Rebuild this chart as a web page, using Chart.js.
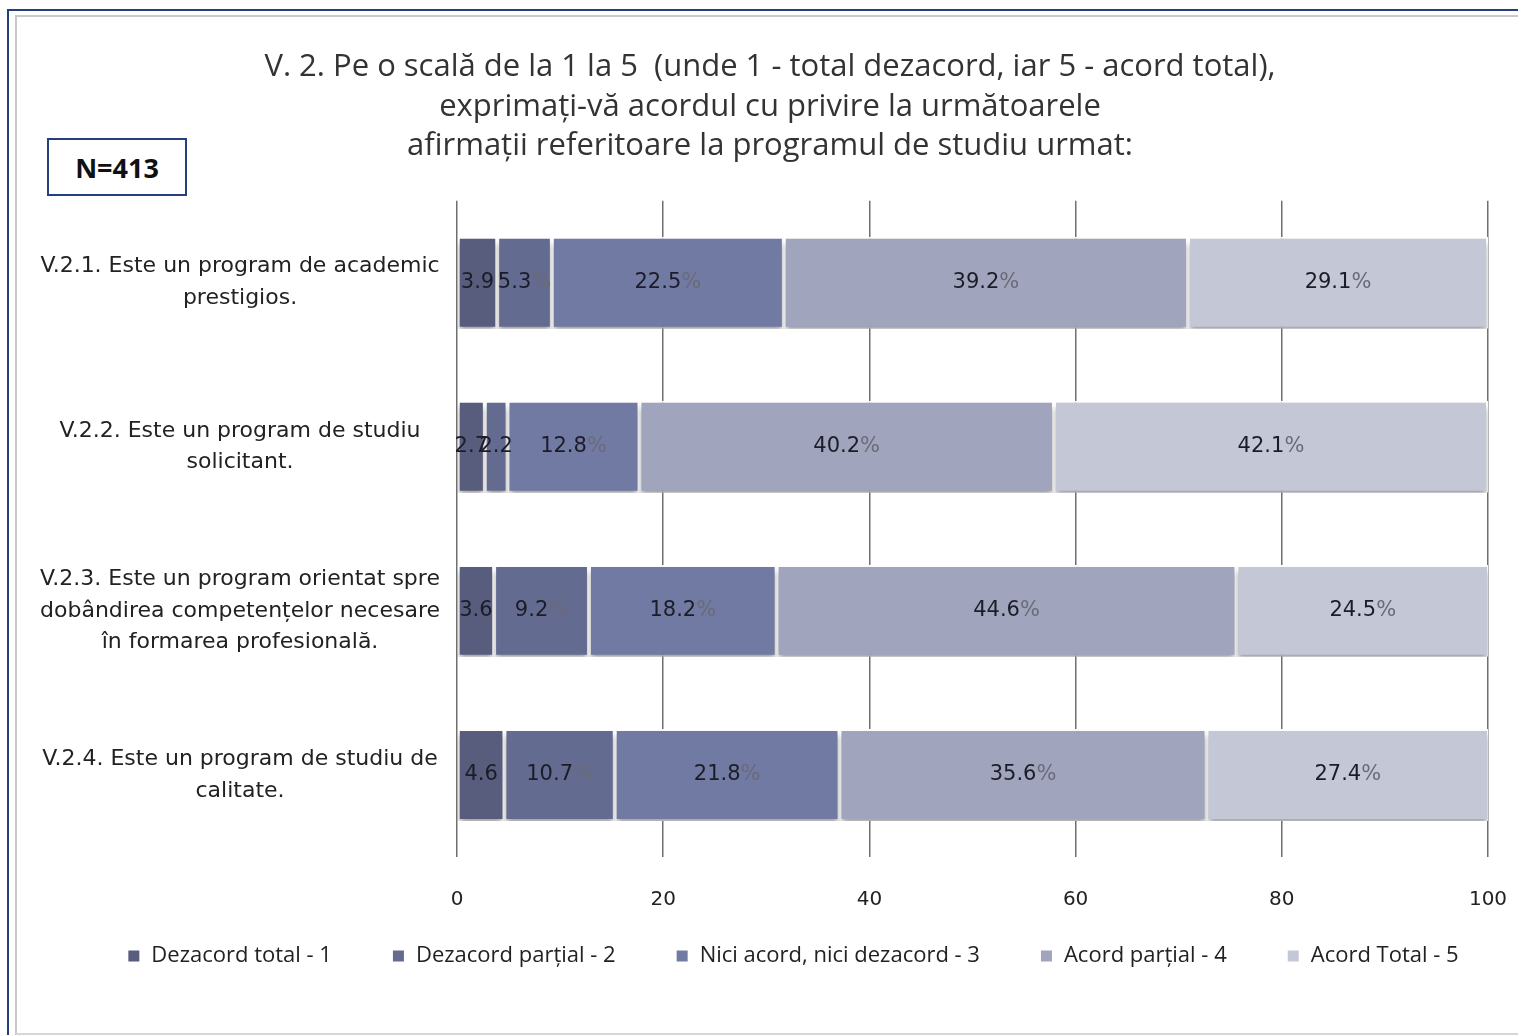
<!DOCTYPE html>
<html>
<head>
<meta charset="utf-8">
<script src="https://cdn.jsdelivr.net/npm/chart.js@4"></script>
<style>
  html, body { margin: 0; padding: 0; background: #fff; }
  #wrap { position: relative; width: 1518px; height: 1035px; overflow: hidden; }
  .frame { position: absolute; left: 7px; top: 9px; width: 1560px; height: 1100px;
           border-top: 2px solid #233f7c; border-left: 2px solid #233f7c; }
  .inner { position: absolute; left: 15px; top: 15px; width: 1560px; height: 1016px;
           border-top: 2px solid #c9c9c9; border-left: 2px solid #c9c9c9; border-bottom: 2px solid #d6d6d6; }
  #nbox { position: absolute; left: 47px; top: 138px; width: 136px; height: 54px;
          border: 2px solid #233f7c; font: bold 27px "Open Sans", sans-serif; color: #111;
          display: flex; align-items: center; justify-content: center; background: #fff; }
  canvas { position: absolute; left: 0; top: 0; }
</style>
</head>
<body>
<div id="wrap">
  <div class="frame"></div>
  <div class="inner"></div>
  <canvas id="chart" width="1518" height="1035"></canvas>
  <div id="nbox">N=413</div>
</div>
<script>
const categories = [
  ["V.2.1. Este un program de academic", "prestigios."],
  ["V.2.2. Este un program de studiu", "solicitant."],
  ["V.2.3. Este un program orientat spre", "dobândirea competențelor necesare", "în formarea profesională."],
  ["V.2.4. Este un program de studiu de", "calitate."]
];
const seriesNames = ["Dezacord total - 1", "Dezacord parțial - 2", "Nici acord, nici dezacord - 3", "Acord parțial - 4", "Acord Total - 5"];
const dezacordTotal = [3.9, 2.7, 3.6, 4.6];
const dezacordPartial = [5.3, 2.2, 9.2, 10.7];
const neutru = [22.5, 12.8, 18.2, 21.8];
const acordPartial = [39.2, 40.2, 44.6, 35.6];
const acordTotal = [29.1, 42.1, 24.5, 27.4];
const xTicks = [0, 20, 40, 60, 80, 100];
const colors = ["#585d7d", "#646b91", "#707aa3", "#a0a5bd", "#c4c7d6"];

const seriesData = [dezacordTotal, dezacordPartial, neutru, acordPartial, acordTotal];

// shadow under the bars, like the old office chart
const barShadow = {
  id: "barShadow",
  beforeDatasetsDraw(chart) {
    const ctx = chart.ctx;
    ctx.save();
    ctx.shadowColor = "rgba(0,0,0,0.35)";
    ctx.shadowOffsetY = 5;
    ctx.shadowBlur = 6;
  },
  afterDatasetsDraw(chart) {
    chart.ctx.restore();
  }
};

// nudge legend row and title (legend padding is also the item gap)
const boxShift = {
  id: "boxShift",
  afterLayout(chart) {
    const lg = chart.legend;
    lg.top -= 30; lg.bottom -= 30;
    lg.left += 39; lg.right += 39;
    const t = chart.titleBlock;
    t.left += 16; t.right += 16;
  }
};

const segLabels = {
  id: "segLabels",
  afterDatasetsDraw(chart) {
    const ctx = chart.ctx;
    ctx.save();
    ctx.font = "21px 'DejaVu Sans', sans-serif";
    ctx.textBaseline = "middle";
    ctx.textAlign = "left";
    chart.data.datasets.forEach((ds, i) => {
      const meta = chart.getDatasetMeta(i);
      meta.data.forEach((bar, j) => {
        const v = ds.data[j];
        const num = v.toFixed(1);
        const pct = v < 5 ? "" : "%";
        const w1 = ctx.measureText(num).width;
        const w2 = pct ? ctx.measureText(pct).width : 0;
        const cx = (bar.x + bar.base) / 2;
        const x0 = cx - (w1 + w2) / 2;
        ctx.fillStyle = "#1c1c28";
        ctx.fillText(num, x0, bar.y);
        if (pct) {
          ctx.fillStyle = "#6a6a78";
          ctx.fillText(pct, x0 + w1, bar.y);
        }
      });
    });
    ctx.restore();
  }
};

new Chart(document.getElementById("chart"), {
  type: "bar",
  data: {
    labels: categories,
    datasets: seriesData.map((d, i) => ({
      label: seriesNames[i],
      data: d,
      backgroundColor: colors[i],
      borderColor: "#ffffff",
      borderWidth: 2,
      borderSkipped: false,
      categoryPercentage: 1,
      barPercentage: 0.56
    }))
  },
  options: {
    indexAxis: "y",
    responsive: false,
    animation: false,
    layout: { padding: { left: 20, right: 30, top: 20, bottom: 28 } },
    plugins: {
      tooltip: { enabled: false },
      title: {
        display: true,
        text: [
          "V. 2. Pe o scală de la 1 la 5  (unde 1 - total dezacord, iar 5 - acord total),",
          "exprimați-vă acordul cu privire la următoarele",
          "afirmații referitoare la programul de studiu urmat:"
        ],
        color: "#333",
        font: { family: "Open Sans", size: 31, weight: "normal", lineHeight: 1.265 },
        padding: { top: 28, bottom: 35 }
      },
      legend: {
        position: "bottom",
        labels: {
          boxWidth: 13,
          boxHeight: 13,
          padding: 60,
          color: "#222",
          font: { family: "Open Sans", size: 22 }
        }
      }
    },
    scales: {
      x: {
        stacked: true,
        min: 0,
        max: 100,
        afterBuildTicks(scale) {
          scale.ticks = xTicks.map(v => ({ value: v }));
        },
        border: { display: false },
        grid: { color: "#6f6f6f", lineWidth: 1.5, drawTicks: true, tickLength: 28, tickColor: "rgba(0,0,0,0)" },
        ticks: { padding: 3, color: "#222", font: { family: "DejaVu Sans", size: 20 } }
      },
      y: {
        stacked: true,
        afterFit(scale) { scale.width = 437; },
        border: { display: false },
        grid: { display: false, drawTicks: false },
        ticks: {
          crossAlign: "center",
          padding: 17,
          color: "#222",
          font: { family: "DejaVu Sans", size: 22, lineHeight: 1.45 }
        }
      }
    }
  },
  plugins: [barShadow, boxShift, segLabels]
});
</script>
</body>
</html>
